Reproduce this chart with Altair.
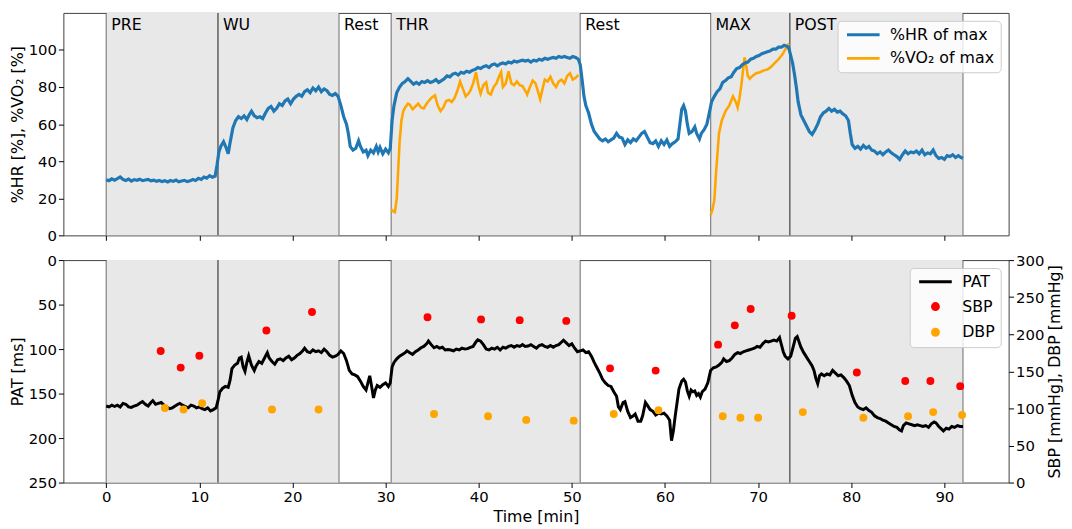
import altair as alt
import pandas as pd

F = "DejaVu Sans"
W, H = 956, 225
XD = [-4.6, 96.9]

# ---------------- phases ----------------
phase_name = ["PRE", "WU", "Rest", "THR", "Rest", "MAX", "POST"]
phase_start = [0, 12, 25, 30.6, 50.9, 64.9, 73.4]
phase_end = [12, 25, 30.6, 50.9, 64.9, 73.4, 92]
phase_shaded = [1, 1, 0, 1, 0, 1, 1]

# ---------------- %HR of max ----------------
hr_t = [0, 0.3, 0.6, 0.9, 1.2, 1.5, 1.8, 2.1, 2.4, 2.7, 3.0, 3.3, 3.6, 3.9, 4.2, 4.5, 4.8, 5.1, 5.4, 5.7,
        6.0, 6.3, 6.6, 6.9, 7.2, 7.5, 7.8, 8.1, 8.4, 8.7, 9.0, 9.3, 9.6, 9.9, 10.2, 10.5, 10.8, 11.1, 11.4, 11.7,
        11.9, 12.1, 12.3, 12.6, 12.9, 13.1, 13.3, 13.6, 13.9, 14.2, 14.5, 14.8, 15.1, 15.4, 15.6, 15.9, 16.2,
        16.5, 16.8, 17.1, 17.4, 17.7, 18.0, 18.3, 18.6, 18.9, 19.2, 19.5, 19.8, 20.1, 20.4, 20.7, 21.0, 21.3,
        21.6, 21.9, 22.2, 22.5, 22.8, 23.1, 23.4, 23.7, 24.0, 24.3, 24.6, 24.9,
        25.2, 25.5, 25.8, 26.0, 26.2, 26.5, 26.8, 27.1, 27.3, 27.6, 27.9, 28.1, 28.4, 28.7, 29.0, 29.2, 29.4,
        29.7, 30.0, 30.3, 30.5,
        30.7, 30.9, 31.2, 31.5, 31.8, 32.1, 32.4, 32.7, 33.0, 33.3, 33.6, 33.9, 34.2, 34.5, 34.8, 35.1, 35.4,
        35.7, 36.0, 36.3, 36.6, 36.9, 37.2, 37.5, 37.8, 38.1, 38.4, 38.7, 39.0, 39.3, 39.6, 39.9, 40.2, 40.5,
        40.8, 41.1, 41.4, 41.7, 42.0, 42.3, 42.6, 42.9, 43.2, 43.5, 43.8, 44.1, 44.4, 44.7, 45.0, 45.3, 45.6,
        45.9, 46.2, 46.5, 46.8, 47.1, 47.4, 47.7, 48.0, 48.3, 48.6, 48.9, 49.2, 49.5, 49.8, 50.1, 50.4, 50.7,
        50.9, 51.1, 51.3, 51.5, 51.8, 52.1, 52.4, 52.7, 53.0, 53.3, 53.6, 53.9, 54.2, 54.5, 54.8, 55.1, 55.4,
        55.7, 56.0, 56.3, 56.6, 56.9, 57.2, 57.5, 57.8, 58.1, 58.4, 58.7, 59.0, 59.3, 59.6, 59.9, 60.2, 60.5,
        60.8, 61.1, 61.4, 61.6, 61.8, 62.0, 62.2, 62.4, 62.6, 62.9, 63.2, 63.4, 63.7, 63.9, 64.2, 64.5,
        64.8, 65.0, 65.3, 65.6, 65.9, 66.2, 66.5, 66.8, 67.1, 67.4, 67.7, 68.0, 68.3, 68.6, 68.9, 69.2, 69.5,
        69.8, 70.1, 70.4, 70.7, 71.0, 71.3, 71.6, 71.9, 72.2, 72.5, 72.8, 73.1, 73.3,
        73.5, 73.7, 73.9, 74.1, 74.3, 74.6, 74.9, 75.2, 75.5, 75.8, 76.1, 76.4, 76.7, 77.0, 77.3, 77.6, 77.9,
        78.2, 78.5, 78.8, 79.1, 79.4, 79.7, 79.9, 80.1, 80.4, 80.7, 81.0, 81.3, 81.6, 81.9, 82.2, 82.5, 82.8,
        83.1, 83.4, 83.7, 84.0, 84.3, 84.6, 84.9, 85.2, 85.5, 85.8, 86.1, 86.4, 86.7, 87.0, 87.3, 87.6, 87.9,
        88.2, 88.5, 88.8, 89.1, 89.4, 89.7, 90.0, 90.3, 90.6, 90.9, 91.2, 91.5, 91.8, 92.0]
hr_v = [30, 29.5, 30.5, 29.8, 30.6, 31.5, 30.2, 29.6, 30.4, 29.3, 30.1, 29.7, 30.3, 29.5, 29.9, 30.2, 29.4, 29.8, 29.2, 29.6,
        29.0, 29.5, 28.8, 29.6, 29.1, 29.8, 28.9, 29.3, 29.7, 29.0, 29.4, 30.1, 29.6, 30.8, 30.2, 31.5, 30.9, 32.2, 31.4, 32.0,
        38, 45, 48, 50.5, 47, 44, 50, 58, 62, 64, 63, 64.5, 62.5, 65.5, 67, 64.5, 63.5,
        64, 63, 66, 68.5, 69.5, 67, 68.5, 71, 70, 72.5, 73.5, 71, 73.5, 75, 76, 75, 77.5,
        78.5, 77, 79.5, 78, 80, 77.5, 79, 78, 76, 75.5, 76.5, 75,
        70, 64, 60, 55, 48, 46, 47, 51, 48, 45, 46, 43, 46, 44.5, 48, 45, 47.5,
        44, 46.5, 44.5, 47,
        62, 70, 77, 80, 82, 83, 84.5, 83, 81.5, 82.5, 81.5, 83, 82.5, 83.5, 82.5, 83, 84,
        82.5, 83.5, 84.5, 86, 85.5, 87, 87.5, 86.5, 88, 87.5, 88.5, 88, 89, 89.5, 90.5, 90, 91,
        91.5, 90.5, 92, 92.5, 91.5, 92.5, 93, 92.5, 93.5, 93, 94, 93.5, 94, 94.5, 94, 94.5, 93.5,
        94.5, 94, 95, 94.5, 95.5, 95, 95.5, 96, 95.5, 96.5, 96, 96.5, 96, 95.5, 96.5, 96, 95,
        92, 84, 75, 70, 66, 60, 56, 54, 52, 51, 52, 50.5, 51.5, 52.5, 55, 53, 52.5,
        49, 51.5, 50, 52, 51, 53, 55, 56, 53, 50, 49.5, 51, 48, 51, 49, 51.5, 48,
        49.5, 50.5, 52, 60, 68, 70, 67, 60, 55, 56, 58.5, 55, 52, 55, 57, 60,
        67, 72, 75, 77.5, 79, 82.5, 83.5, 85, 85.5, 88, 90, 90.5, 92, 93, 93.5, 95, 95.5,
        96.5, 97, 98, 98.5, 99, 99.5, 100.5, 100.5, 101.5, 101.5, 102.5, 102, 101,
        97, 93, 87, 80, 72, 65, 62, 59, 56, 54.5, 57, 60, 64, 66, 67, 68.5, 67,
        68, 66.5, 67, 65.5, 64.5, 62, 55, 49, 47, 48, 46.5, 48.5, 47, 48, 46, 45.5, 44,
        45, 43.5, 45, 46, 44.5, 43.5, 42.5, 41, 43.5, 45.5, 44, 45, 44.5, 45.5, 44, 46, 43.5,
        44.5, 44, 46, 43, 41.5, 42, 41, 43, 42.5, 43.5, 42, 43, 42, 41.5]

# ---------------- %VO2 of max (two measured segments) ----------------
vo2_thr_t = [30.6, 30.8, 31.0, 31.2, 31.35, 31.5, 31.7, 31.9, 32.1, 32.4, 32.6, 32.9, 33.2, 33.5, 33.8, 34.1,
             34.4, 34.7, 35.0, 35.3, 35.6, 35.9, 36.2, 36.5, 36.8, 37.1, 37.4, 37.7, 38.0, 38.3, 38.6, 38.9,
             39.1, 39.4, 39.7, 40.0, 40.2, 40.5, 40.8, 41.0, 41.3, 41.6, 41.9, 42.2, 42.4, 42.6, 42.9, 43.2,
             43.5, 43.8, 44.1, 44.4, 44.7, 45.0, 45.2, 45.5, 45.8, 46.1, 46.4, 46.6, 46.9, 47.1, 47.4, 47.7,
             48.0, 48.3, 48.6, 48.9, 49.2, 49.5, 49.8, 50.1, 50.4, 50.7]
vo2_thr_v = [14, 13, 12.5, 20, 35, 50, 62, 67, 69, 71, 70.5, 68, 69.5, 71, 69, 68.5,
             71, 73, 74.5, 75.5, 70, 67, 69, 72.5, 73, 72, 74, 78, 83, 79, 75, 76.5,
             78, 82, 88, 80, 76.5, 81, 82.5, 77, 76, 80, 82, 86, 88, 80, 82, 88.5,
             82, 81, 83, 81, 80.5, 78, 76, 80, 83.5, 82, 77, 73.5, 80, 84, 83, 85.5,
             82, 80, 83, 84, 82, 86, 87.5, 84, 85, 86.5]
vo2_max_t = [64.9, 65.1, 65.3, 65.5, 65.8, 66.1, 66.5, 66.9, 67.3, 67.6, 67.8, 68.0, 68.2, 68.4, 68.55, 68.7,
             68.9, 69.1, 69.4, 69.8, 70.2, 70.6, 71.0, 71.4, 71.8, 72.2, 72.6, 73.0, 73.3]
vo2_max_v = [11, 14, 19, 35, 55, 62, 67, 70, 75, 72, 69, 74, 81, 90, 96, 92,
             86, 84.5, 86, 87.5, 88, 89, 89.5, 91, 93, 95, 97.5, 101, 103.5]

# ---------------- PAT ----------------
pat_t = [0, 0.3, 0.6, 0.9, 1.2, 1.5, 1.8, 2.1, 2.4, 2.7, 3.0, 3.3, 3.6, 3.9, 4.2, 4.5, 4.8, 5.0, 5.3, 5.6,
         5.9, 6.2, 6.5, 6.8, 7.1, 7.4, 7.7, 7.9, 8.2, 8.5, 8.8, 9.1, 9.4, 9.7, 10.0, 10.3, 10.6, 10.9, 11.2,
         11.5, 11.8, 12.0, 12.2, 12.5, 12.8, 13.1, 13.3, 13.5, 13.8, 14.1, 14.3, 14.5, 14.7, 14.9, 15.1, 15.3,
         15.6, 15.9, 16.1, 16.4, 16.7, 17.0, 17.3, 17.5, 17.8, 18.1, 18.4, 18.7, 19.0, 19.3, 19.6, 19.9, 20.2,
         20.5, 20.8, 21.1, 21.3, 21.6, 21.9, 22.2, 22.5, 22.8, 23.1, 23.4, 23.7, 24.0, 24.3, 24.6, 24.9, 25.2,
         25.5, 25.8, 26.1, 26.4, 26.7, 27.0, 27.3, 27.6, 27.9, 28.1, 28.3, 28.5, 28.7, 28.9, 29.1, 29.4, 29.7,
         30.0, 30.3, 30.5, 30.7, 30.9, 31.2, 31.5, 31.8, 32.1, 32.3, 32.6, 32.9, 33.2, 33.5, 33.8, 34.1, 34.4,
         34.6, 34.9, 35.2, 35.5, 35.8, 36.1, 36.4, 36.7, 37.0, 37.3, 37.6, 37.9, 38.2, 38.5, 38.8, 39.1, 39.4,
         39.7, 39.9, 40.2, 40.5, 40.8, 41.1, 41.4, 41.7, 42.0, 42.3, 42.6, 42.9, 43.2, 43.5, 43.8, 44.1, 44.4,
         44.7, 45.0, 45.3, 45.6, 45.9, 46.2, 46.5, 46.8, 47.1, 47.4, 47.7, 48.0, 48.3, 48.6, 48.9, 49.1, 49.4,
         49.7, 50.0, 50.3, 50.6, 50.9, 51.2, 51.5, 51.8, 52.1, 52.4, 52.7, 53.0, 53.3, 53.6, 53.9, 54.2, 54.5,
         54.8, 55.0, 55.2, 55.5, 55.7, 56.0, 56.3, 56.6, 56.8, 57.1, 57.4, 57.6, 57.9, 58.1, 58.4, 58.7, 59.0,
         59.3, 59.6, 59.9, 60.2, 60.5, 60.7, 60.9, 61.1, 61.3, 61.5, 61.8, 62.0, 62.2, 62.4, 62.6, 62.8, 63.0,
         63.2, 63.4, 63.6, 63.8, 64.0, 64.3, 64.6, 64.9, 65.2, 65.5, 65.8, 66.1, 66.3, 66.6, 66.9, 67.2, 67.5,
         67.8, 68.1, 68.4, 68.7, 69.0, 69.3, 69.6, 69.9, 70.2, 70.5, 70.8, 71.1, 71.4, 71.7, 72.0, 72.3, 72.5,
         72.7, 72.9, 73.2, 73.5, 73.8, 74.0, 74.2, 74.4, 74.6, 74.9, 75.2, 75.5, 75.8, 76.0, 76.2, 76.4, 76.6,
         76.8, 77.1, 77.4, 77.7, 78.0, 78.3, 78.6, 78.9, 79.2, 79.5, 79.8, 80.1, 80.4, 80.7, 81.0, 81.3, 81.6,
         81.9, 82.2, 82.5, 82.8, 83.1, 83.4, 83.7, 84.0, 84.3, 84.6, 84.9, 85.2, 85.4, 85.6, 85.9, 86.2, 86.5,
         86.8, 87.1, 87.4, 87.7, 88.0, 88.3, 88.6, 88.9, 89.1, 89.4, 89.7, 89.9, 90.2, 90.5, 90.8, 91.1, 91.4,
         91.7, 92.0]
pat_v = [164, 165, 163, 164.5, 163, 165, 161, 162, 165, 165.5, 164, 163, 161, 159, 162, 164, 160, 158, 162, 161,
         160, 163, 165, 167, 166, 164, 162, 161, 163, 164.5, 166, 163, 164, 166, 165, 167, 168, 166, 169.5,
         168, 166, 158, 148, 144, 142, 143, 135, 122, 118, 116, 110, 109, 120, 125, 115, 107.5,
         118, 124, 119, 114, 116, 110, 104, 110, 114, 117, 112, 111, 113, 110, 108, 112, 110,
         107, 105, 102, 99, 103, 104, 101, 103, 102, 104, 100, 103, 107, 109, 108, 106, 102,
         105, 113, 124, 128, 129, 131, 136, 142, 146, 138, 130, 142, 155, 146, 141, 143, 140,
         138, 142, 138, 120, 115, 111, 108, 106, 104, 102, 104, 106, 103, 101, 98.5, 97, 94,
         91, 95, 98.5, 97, 99, 98, 101, 100.5, 101, 102, 100, 101, 99, 100, 99.5, 98, 97,
         92, 89.5, 91, 95, 100, 101, 99, 100, 98, 101, 98, 99, 97, 96, 98, 96, 97,
         95, 97, 96.5, 95, 97, 99, 96, 95, 97, 98, 96, 98, 96, 95, 92, 90, 93,
         96, 94, 99, 103, 102, 101, 104, 103, 108, 115, 121, 127, 134, 138, 141, 142, 148,
         153, 165, 168, 160, 159, 170, 177, 175, 173, 181, 181, 175, 160, 163, 168, 170, 174,
         172, 173, 172, 175, 180, 203, 192, 175, 160, 145, 136, 134, 137, 147, 153, 146, 148,
         147, 152, 150, 154, 148, 145, 138, 124, 121, 120, 118, 115, 111, 114, 113, 110, 106,
         104, 105, 103, 102, 101, 100, 99, 97, 98, 94, 91, 92, 91, 90, 91, 87, 95,
         103, 108, 111, 108, 96, 88, 86, 92, 98, 104, 109, 114, 119, 124, 133, 139, 130,
         128, 130, 128, 129, 124, 127, 130, 129, 132, 136, 141, 152, 160, 165, 167, 168, 166,
         169, 171, 175, 177, 178, 180, 181, 183, 185, 187, 188, 191, 192, 186, 183, 184, 185,
         186, 185, 186, 187, 186, 188, 184, 182, 183, 187, 190, 192, 189, 190, 187, 188, 186,
         187, 187]

# ---------------- blood pressure (right axis) ----------------
sbp_t = [5.85, 8.0, 10.0, 17.2, 22.1, 34.5, 40.25, 44.4, 49.4, 54.1, 59.0, 65.7, 67.5, 69.2, 73.6, 80.6, 85.8, 88.5, 91.7]
sbp_v = [177.5, 155, 171, 205, 230, 223, 220, 219, 218, 154, 151, 186, 212, 234, 225, 148.5, 137, 137, 130]
dbp_t = [6.3, 8.3, 10.3, 17.8, 22.8, 35.2, 41.0, 45.1, 50.2, 54.5, 59.3, 66.2, 68.1, 70.0, 74.8, 81.3, 86.1, 88.8, 91.9]
dbp_v = [100.5, 98.5, 107, 98.5, 98.5, 92.5, 89.5, 84.5, 83.5, 92.5, 97.5, 89.5, 87.5, 87.5, 95, 87.5, 89.5, 95, 91]

# ---------------- tables ----------------
phases = pd.DataFrame({"name": phase_name, "start": phase_start, "end": phase_end, "shaded": phase_shaded})
shaded = phases[phases["shaded"] == 1]
edges = pd.DataFrame({"t": list(shaded["start"]) + list(shaded["end"])})

hr_df = pd.DataFrame({"t": hr_t, "v": hr_v, "series": "%HR of max", "seg": "hr"})
vo2_df = pd.concat([
    pd.DataFrame({"t": vo2_thr_t, "v": vo2_thr_v, "series": "%VO₂ of max", "seg": "thr"}),
    pd.DataFrame({"t": vo2_max_t, "v": vo2_max_v, "series": "%VO₂ of max", "seg": "max"}),
])
pat_df = pd.DataFrame({"t": pat_t, "v": pat_v})
bp_df = pd.concat([
    pd.DataFrame({"t": sbp_t, "v": sbp_v, "series": "SBP"}),
    pd.DataFrame({"t": dbp_t, "v": dbp_v, "series": "DBP"}),
])

xscale = alt.Scale(domain=XD, nice=False, zero=False)
ticks10 = list(range(0, 100, 10))
top_xaxis = alt.Axis(values=ticks10, labels=False, ticks=True, tickSize=5, domain=False, grid=False, title=None)
bot_xaxis = alt.Axis(values=ticks10, title="Time [min]", tickSize=5, labelPadding=2, titlePadding=4,
                     domain=False, grid=False)

SPAN = "#e8e8e8"
EDGE = "#444444"
LINE_SYM = "M-5.5,0H5.5"


def backdrop(xaxis):
    rect = alt.Chart(shaded).mark_rect(color=SPAN).encode(
        x=alt.X("start:Q", scale=xscale, axis=xaxis), x2="end:Q")
    rules = alt.Chart(edges).mark_rule(color=EDGE, opacity=0.6, strokeWidth=1.3).encode(
        x=alt.X("t:Q", scale=xscale, axis=xaxis))
    return rect, rules


legend_style = dict(title=None, orient="top-right", offset=8, symbolSize=36, symbolStrokeWidth=3,
                    symbolOffset=12, labelOffset=19, labelFontSize=16, labelFont=F, labelColor="black",
                    rowPadding=8, padding=6, fillColor="rgba(255,255,255,0.8)", strokeColor="#cccccc",
                    cornerRadius=4)

# ---------------- top panel ----------------
top_legend = alt.Legend(symbolType=LINE_SYM, **legend_style)
color_scale = alt.Scale(domain=["%HR of max", "%VO₂ of max"], range=["#1f77b4", "#ffa500"])
yt = alt.Scale(domain=[0, 120], nice=False)
yt_axis = alt.Axis(values=[0, 20, 40, 60, 80, 100], title="%HR [%], %VO₂ [%]", tickSize=5, labelPadding=2,
                   titlePadding=3, domain=False, grid=False)

r1, ru1 = backdrop(top_xaxis)
labels = alt.Chart(phases).mark_text(align="left", baseline="middle", dx=5, fontSize=16, font=F,
                                     color="black").encode(
    x=alt.X("start:Q", scale=xscale, axis=top_xaxis), y=alt.value(12), text="name:N")
hr_line = alt.Chart(hr_df).mark_line(strokeWidth=3.2).encode(
    x=alt.X("t:Q", scale=xscale, axis=top_xaxis),
    y=alt.Y("v:Q", scale=yt, axis=yt_axis),
    color=alt.Color("series:N", scale=color_scale, legend=top_legend),
    detail="seg:N")
vo2_line = alt.Chart(vo2_df).mark_line(strokeWidth=2.6).encode(
    x=alt.X("t:Q", scale=xscale, axis=top_xaxis),
    y=alt.Y("v:Q", scale=yt, axis=yt_axis),
    color=alt.Color("series:N", scale=color_scale, legend=top_legend),
    detail="seg:N")
top = alt.layer(r1, ru1, labels, vo2_line, hr_line).properties(width=W, height=H)

# ---------------- bottom panel ----------------
bot_legend = alt.Legend(**legend_style)
series_dom = ["PAT", "SBP", "DBP"]
r2, ru2 = backdrop(bot_xaxis)
pat_line = alt.Chart(pat_df).mark_line(strokeWidth=3, color="black").encode(
    x=alt.X("t:Q", scale=xscale, axis=bot_xaxis),
    y=alt.Y("v:Q", scale=alt.Scale(domain=[0, 250], reverse=True, nice=False),
            axis=alt.Axis(values=[0, 50, 100, 150, 200, 250], title="PAT [ms]", tickSize=5, labelPadding=2,
                          titlePadding=3, domain=False, grid=False)))
bp_pts = alt.Chart(bp_df).mark_point(filled=True, size=25, strokeWidth=3, opacity=1).encode(
    x=alt.X("t:Q", scale=xscale, axis=bot_xaxis),
    y=alt.Y("v:Q", scale=alt.Scale(domain=[0, 300], nice=False),
            axis=alt.Axis(orient="right", values=[0, 50, 100, 150, 200, 250, 300],
                          title="SBP [mmHg], DBP [mmHg]", titleAngle=270, titleBaseline="top",
                          tickSize=5, labelPadding=2, titlePadding=3, domain=False, grid=False)),
    fill=alt.Fill("series:N", scale=alt.Scale(domain=series_dom, range=["black", "red", "#ffa500"]),
                  legend=bot_legend),
    stroke=alt.Stroke("series:N", scale=alt.Scale(domain=series_dom, range=["black", "red", "#ffa500"]),
                      legend=bot_legend),
    shape=alt.Shape("series:N", scale=alt.Scale(domain=series_dom, range=[LINE_SYM, "circle", "circle"]),
                    legend=bot_legend))
bottom = alt.layer(r2, ru2, pat_line, bp_pts).resolve_scale(y="independent").properties(width=W, height=H)

chart = alt.vconcat(top, bottom, spacing=8).resolve_scale(
    x="independent", color="independent", fill="independent", stroke="independent", shape="independent"
).properties(padding=0).configure_axis(
    labelFont=F, titleFont=F, labelFontSize=15, titleFontSize=16, titleFontWeight="normal",
    labelColor="black", titleColor="black", tickColor="black"
).configure_view(stroke="#404040", strokeWidth=1)

chart.save("out.html", embed_options={"renderer": "svg", "actions": False})
